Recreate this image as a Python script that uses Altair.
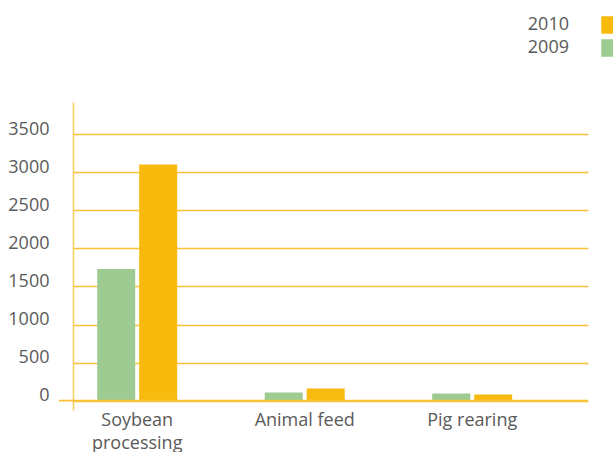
import altair as alt
import pandas as pd

categories = ["Soybean processing", "Animal feed", "Pig rearing"]
years = ["2009", "2010"]
values_2009 = [1730, 109, 96]
values_2010 = [3100, 161, 83]
y_ticks = [0, 500, 1000, 1500, 2000, 2500, 3000, 3500]

rows = []
for c, v9, v10 in zip(categories, values_2009, values_2010):
    rows.append({"Category": c, "Year": "2009", "Value": v9})
    rows.append({"Category": c, "Year": "2010", "Value": v10})
df = pd.DataFrame(rows)

GREEN = "#9DCB92"
ORANGE = "#F9BA0E"
GRID = "#F9C238"
AXIS = "#F8CF62"
TEXT = "#5a5a5a"
FONT = "Open Sans"

bars = alt.Chart(df).mark_bar().encode(
    x=alt.X(
        "Category:N",
        sort=categories,
        scale=alt.Scale(paddingInner=0.5224, paddingOuter=0.2985, align=0.242),
        axis=alt.Axis(
            title=None,
            labelAngle=0,
            domain=False,
            ticks=False,
            labelPadding=1,
            labelFontSize=18,
            labelFont=FONT,
            labelColor=TEXT,
            labelLineHeight=23,
            labelExpr="datum.label == 'Soybean processing' ? ['Soybean', 'processing'] : datum.label",
        ),
    ),
    xOffset=alt.XOffset("Year:N", sort=years, scale=alt.Scale(paddingInner=0.095, paddingOuter=0)),
    y=alt.Y(
        "Value:Q",
        scale=alt.Scale(domain=[-122, 3920], nice=False, zero=False),
        axis=alt.Axis(
            title=None,
            values=y_ticks,
            format="d",
            grid=True,
            gridColor=GRID,
            gridWidth=1.6,
            ticks=False,
            domainColor=AXIS,
            domainWidth=1.6,
            labelPadding=24,
            labelOffset=-5,
            labelFontSize=18,
            labelFont=FONT,
            labelColor=TEXT,
        ),
    ),
    color=alt.Color(
        "Year:N",
        scale=alt.Scale(domain=years, range=[GREEN, ORANGE]),
        legend=alt.Legend(
            title=None,
            values=["2010", "2009"],
            orient="none",
            legendX=528,
            legendY=-86,
            padding=0,
            symbolType="square",
            symbolSize=306,
            symbolStrokeWidth=0,
            labelAlign="right",
            labelOffset=alt.ExprRef(expr="-50"),
            labelFontSize=18,
            labelFont=FONT,
            labelColor=TEXT,
            rowPadding=5,
        ),
    ),
)

zero_line = alt.Chart(pd.DataFrame({"y": [0]})).mark_rule(color=GRID, strokeWidth=1.8).encode(
    y=alt.Y("y:Q"),
    x=alt.value(-14),
    x2=alt.value(515),
)

chart = alt.layer(bars, zero_line).properties(
    width=515,
    height=308,
    autosize=alt.AutoSizeParams(type="none"),
    padding={"left": 73, "top": 102, "right": 25, "bottom": 42},
).configure_view(stroke=None)

chart.save("out.html", embed_options={"renderer": "svg", "actions": False})
